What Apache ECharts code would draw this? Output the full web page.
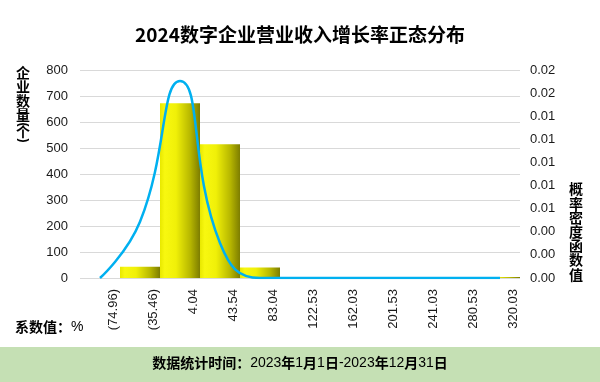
<!DOCTYPE html>
<html>
<head>
<meta charset="utf-8">
<script src="https://cdn.jsdelivr.net/npm/echarts@6/dist/echarts.min.js"></script>
<style>
html,body{margin:0;padding:0;background:#fff;}
#chart{width:600px;height:382px;}
</style>
</head>
<body>
<div id="chart"></div>
<script>
var categories = ['(74.96)', '(35.46)', '4.04', '43.54', '83.04', '122.53', '162.03', '201.53', '241.03', '280.53', '320.03'];
var counts = [0, 43, 672, 514, 40, 4, 0, 0, 0, 0, 4];
var density = [0, 0.00487, 0.01705, 0.00303, 0, 0, 0, 0, 0, 0, 0];
var titleText = '2024数字企业营业收入增长率正态分布';
var leftAxisName = '企\n业\n数\n量';
var rightAxisName = '概\n率\n密\n度\n函\n数\n值';

var font = '"Liberation Sans", Arial, "Noto Sans CJK SC", sans-serif';
var cjk = '"Noto Sans CJK SC", "Liberation Sans", sans-serif';

var chart = echarts.init(document.getElementById('chart'), null, {renderer: 'canvas'});
var option = {
  animation: false,
  backgroundColor: '#ffffff',
  title: {
    text: titleText,
    left: 'center',
    top: 20,
    textStyle: {fontSize: 19, fontWeight: 'bold', color: '#000', fontFamily: cjk}
  },
  grid: {left: 80, right: 80, top: 70, bottom: 104, containLabel: false},
  xAxis: {
    type: 'category',
    data: categories,
    axisLine: {show: false},
    axisTick: {show: false},
    axisLabel: {
      interval: 0, rotate: 90, margin: 11, fontSize: 13, color: '#1a1a1a',
      fontFamily: font, verticalAlign: 'top', lineHeight: 26
    }
  },
  yAxis: [{
    type: 'value', min: 0, max: 800, interval: 100,
    axisLine: {show: false}, axisTick: {show: false},
    splitLine: {lineStyle: {color: '#d9d9d9', width: 1}},
    axisLabel: {fontSize: 13, color: '#1a1a1a', margin: 12, fontFamily: font}
  }, {
    type: 'value', min: 0, max: 0.018, interval: 0.002,
    axisLine: {show: false}, axisTick: {show: false},
    splitLine: {show: false},
    axisLabel: {fontSize: 13, color: '#1a1a1a', margin: 10, fontFamily: font,
      formatter: function (v) { return v.toFixed(2); }}
  }],
  series: [{
    type: 'bar',
    data: counts,
    yAxisIndex: 0,
    barGap: '0%',
    barCategoryGap: '0%',
    itemStyle: {
      color: new echarts.graphic.LinearGradient(0, 0, 1, 0, [
        {offset: 0, color: '#e8e800'},
        {offset: 0.12, color: '#f8f810'},
        {offset: 0.4, color: '#f0f008'},
        {offset: 0.75, color: '#b8b800'},
        {offset: 1, color: '#7d7d00'}
      ])
    },
    z: 2
  }, {
    type: 'line',
    data: density,
    yAxisIndex: 1,
    smooth: true,
    showSymbol: false,
    lineStyle: {color: '#00b0f0', width: 2.5},
    itemStyle: {color: '#00b0f0'},
    z: 3
  }],
  graphic: [
    {type: 'text', left: 16, top: 66, style: {text: leftAxisName, font: 'bold 14px ' + cjk, fill: '#000', lineHeight: 14}},
    {type: 'text', x: 23, y: 124.5, rotation: -Math.PI / 2, style: {text: '(', font: 'bold 12px ' + font, fill: '#000', textAlign: 'center', textVerticalAlign: 'middle'}},
    {type: 'text', left: 16, top: 125, style: {text: '个', font: 'bold 14px ' + cjk, fill: '#000', lineHeight: 14}},
    {type: 'text', x: 23, y: 140.5, rotation: -Math.PI / 2, style: {text: ')', font: 'bold 12px ' + font, fill: '#000', textAlign: 'center', textVerticalAlign: 'middle'}},
    {type: 'text', left: 569, top: 182, style: {text: rightAxisName, font: 'bold 14px ' + cjk, fill: '#000', lineHeight: 14.2}},
    {type: 'text', left: 15, top: 320, style: {
      text: '{b|系数值：}{n|%}',
      rich: {
        b: {font: 'bold 14px ' + cjk, fill: '#000'},
        n: {font: '14px ' + font, fill: '#000'}
      }
    }},
    {type: 'rect', shape: {x: 0, y: 347, width: 600, height: 35}, style: {fill: '#c5e0b4'}, z: -1},
    {type: 'text', left: 'center', top: 356, style: {
      text: '{b|数据统计时间：}{n|2023}{b|年}{n|1}{b|月}{n|1}{b|日}{n|-2023}{b|年}{n|12}{b|月}{n|31}{b|日}',
      rich: {
        b: {font: 'bold 14px ' + cjk, fill: '#000'},
        n: {font: '14px ' + font, fill: '#000'}
      }
    }}
  ]
};
chart.setOption(option);
</script>
</body>
</html>
